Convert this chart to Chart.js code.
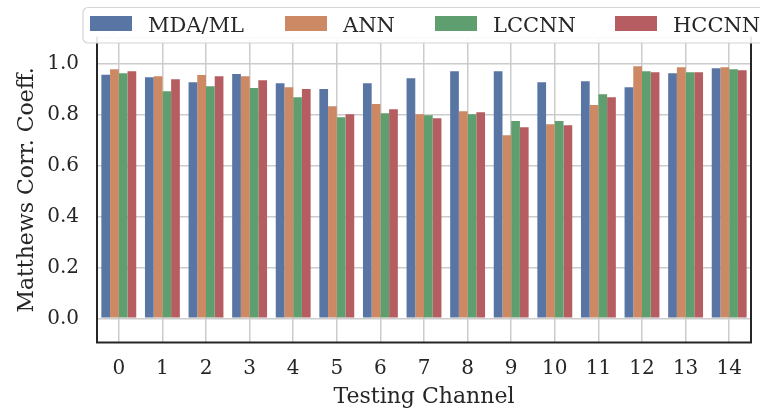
<!DOCTYPE html>
<html>
<head>
<meta charset="utf-8">
<script src="https://cdn.jsdelivr.net/npm/chart.js@4/dist/chart.umd.min.js"></script>
<style>
  html, body { margin: 0; padding: 0; background: #ffffff; }
  #wrap { width: 760px; height: 412px; }
</style>
</head>
<body>
<div id="wrap"><canvas id="c" width="760" height="412"></canvas></div>
<script>
// Testing channels on the x axis
const channels = ['0','1','2','3','4','5','6','7','8','9','10','11','12','13','14'];

// Matthews correlation coefficient per channel for each method
const mdaMl = [0.958, 0.949, 0.929, 0.961, 0.925, 0.902, 0.925, 0.945, 0.972, 0.972, 0.929, 0.933, 0.909, 0.964, 0.984];
const ann   = [0.980, 0.953, 0.957, 0.953, 0.909, 0.835, 0.843, 0.803, 0.815, 0.720, 0.764, 0.839, 0.992, 0.988, 0.988];
const lccnn = [0.964, 0.894, 0.913, 0.906, 0.870, 0.791, 0.807, 0.799, 0.803, 0.776, 0.776, 0.882, 0.972, 0.968, 0.980];
const hccnn = [0.972, 0.941, 0.953, 0.937, 0.902, 0.803, 0.823, 0.787, 0.811, 0.752, 0.760, 0.870, 0.968, 0.968, 0.976];

const seriesNames = ['MDA/ML', 'ANN', 'LCCNN', 'HCCNN'];
const yTicks = [0.0, 0.2, 0.4, 0.6, 0.8, 1.0];

const colors = ['#5975a4', '#cc8963', '#5f9e6e', '#b55d60'];
const FONT = "'DejaVu Serif', 'Liberation Serif', serif";
const SPINE = '#262626';
const GRID = '#cccccc';

// Axis frame: dark left/right/bottom spines, light top edge
const framePlugin = {
  id: 'frame',
  afterDraw(chart) {
    const { ctx, chartArea: a } = chart;
    ctx.save();
    ctx.lineCap = 'square';
    ctx.strokeStyle = GRID;
    ctx.lineWidth = 1.5;
    ctx.beginPath();
    ctx.moveTo(a.left, a.top);
    ctx.lineTo(a.right, a.top);
    ctx.stroke();
    ctx.strokeStyle = SPINE;
    ctx.lineWidth = 2;
    ctx.beginPath();
    ctx.moveTo(a.left, a.top);
    ctx.lineTo(a.left, a.bottom);
    ctx.lineTo(a.right, a.bottom);
    ctx.lineTo(a.right, a.top);
    ctx.stroke();
    ctx.restore();
  }
};

// Horizontal legend in a rounded white frame across the top
const legendSlots = [90, 285, 435, 615];
const legendPlugin = {
  id: 'topLegend',
  afterDraw(chart) {
    const { ctx } = chart;
    const bx = 83, by = 7.5, bw = 690, bh = 35.5, r = 5;
    ctx.save();
    ctx.beginPath();
    ctx.moveTo(bx + r, by);
    ctx.lineTo(bx + bw - r, by);
    ctx.arcTo(bx + bw, by, bx + bw, by + r, r);
    ctx.lineTo(bx + bw, by + bh - r);
    ctx.arcTo(bx + bw, by + bh, bx + bw - r, by + bh, r);
    ctx.lineTo(bx + r, by + bh);
    ctx.arcTo(bx, by + bh, bx, by + bh - r, r);
    ctx.lineTo(bx, by + r);
    ctx.arcTo(bx, by, bx + r, by, r);
    ctx.closePath();
    ctx.fillStyle = 'rgba(255,255,255,0.9)';
    ctx.fill();
    ctx.strokeStyle = '#d4d4d4';
    ctx.lineWidth = 1.2;
    ctx.stroke();

    ctx.font = '21px ' + FONT;
    ctx.textBaseline = 'alphabetic';
    chart.data.datasets.forEach((ds, i) => {
      const x = legendSlots[i];
      ctx.fillStyle = ds.backgroundColor;
      ctx.fillRect(x, 16, 42, 15);
      ctx.fillStyle = SPINE;
      ctx.fillText(ds.label, x + 58, 31.7);
    });
    ctx.restore();
  }
};

const seriesValues = [mdaMl, ann, lccnn, hccnn];

new Chart(document.getElementById('c'), {
  type: 'bar',
  data: {
    labels: channels,
    datasets: seriesNames.map((name, i) => ({
      label: name,
      data: seriesValues[i],
      backgroundColor: colors[i],
      borderWidth: 0,
      categoryPercentage: 0.8,
      barPercentage: 1.0
    }))
  },
  options: {
    responsive: false,
    animation: false,
    devicePixelRatio: 1,
    layout: { padding: { top: 37.5, right: 9, left: 0, bottom: 0 } },
    plugins: {
      legend: { display: false },
      tooltip: { enabled: false }
    },
    scales: {
      x: {
        type: 'category',
        offset: true,
        grid: { offset: false, color: GRID, lineWidth: 1.5, drawTicks: false },
        border: { display: false },
        ticks: {
          color: SPINE,
          font: { family: FONT, size: 20 },
          padding: 14,
          maxRotation: 0,
          autoSkip: false
        },
        title: {
          display: true,
          text: 'Testing Channel',
          color: SPINE,
          font: { family: FONT, size: 22 },
          padding: { top: 0, bottom: 2 }
        },
        afterFit(scale) { scale.height = 69.5; }
      },
      y: {
        min: -0.095,
        max: 1.105,
        grid: { color: GRID, lineWidth: 1.5, drawTicks: false },
        border: { display: false },
        afterBuildTicks(scale) { scale.ticks = yTicks.map(v => ({ value: v })); },
        ticks: {
          color: SPINE,
          font: { family: FONT, size: 20 },
          padding: 18,
          callback: v => Number(v).toFixed(1)
        },
        title: {
          display: true,
          text: 'Matthews Corr. Coeff.',
          color: SPINE,
          font: { family: FONT, size: 22 },
          padding: { top: 14, bottom: 0 }
        },
        afterFit(scale) { scale.width = 97; }
      }
    }
  },
  plugins: [framePlugin, legendPlugin]
});
</script>
</body>
</html>
